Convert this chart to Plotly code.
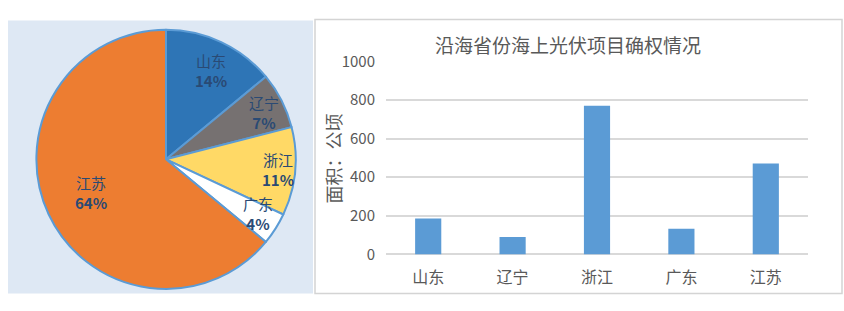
import math
import plotly.graph_objects as go

# ---- data ----
pie_labels = ["山东", "辽宁", "浙江", "广东", "江苏"]
pie_values = [14, 7, 11, 4, 64]
pie_colors = ["#2E75B6", "#767171", "#FFD966", "#FFFFFF", "#ED7D31"]

bar_categories = ["山东", "辽宁", "浙江", "广东", "江苏"]
bar_values = [186, 90, 770, 133, 471]

title_text = "沿海省份海上光伏项目确权情况"
y_title = "面积：公顷"
y_ticks = [0, 200, 400, 600, 800, 1000]

W, H = 844, 311
FONT = "Noto Sans CJK SC"
GRAY = "#595959"
LABEL_C = "#2A4A74"

def px(x):
    return x / W

def py(y):
    return 1 - y / H

fig = go.Figure()

# pie
cx, cy, R = 166, 158, 139
fig.add_trace(go.Pie(
    labels=pie_labels, values=pie_values, sort=False, direction="clockwise", rotation=0,
    marker=dict(colors=pie_colors, line=dict(color="#5B9BD5", width=2)),
    textinfo="none", textposition="none", hoverinfo="skip", showlegend=False,
    domain=dict(x=[px(cx - R), px(cx + R)], y=[py(cy + R), py(cy - R)]),
))

# pie labels computed from slice angles
total = sum(pie_values)
rfrac = [0.76, 0.79, 0.81, 0.78, 0.6]
cum = 0
annotations = []
for lab, v, rf in zip(pie_labels, pie_values, rfrac):
    mid = (cum + v / 2) / total * 2 * math.pi
    cum += v
    lx = cx + rf * R * math.sin(mid)
    ly = cy - rf * R * math.cos(mid)
    annotations.append(dict(
        x=px(lx), y=py(ly), xref="paper", yref="paper", showarrow=False,
        text=f"{lab}<br><b>{round(v / total * 100)}%</b>",
        font=dict(family=FONT, size=15, color=LABEL_C), align="center",
        xanchor="center", yanchor="middle",
    ))

# bars
fig.add_trace(go.Bar(
    x=bar_categories, y=bar_values, marker=dict(color="#5B9BD5", line=dict(width=0)),
    width=0.31, showlegend=False, hoverinfo="skip",
))

annotations.append(dict(
    x=px(568), y=py(35), xref="paper", yref="paper", showarrow=False, text=title_text,
    font=dict(family=FONT, size=19, color=GRAY), xanchor="center", yanchor="middle",
))
annotations.append(dict(
    x=px(333), y=py(157), xref="paper", yref="paper", showarrow=False, text=y_title,
    textangle=-90, font=dict(family=FONT, size=18, color=GRAY), xanchor="center", yanchor="middle",
))

fig.update_layout(
    width=W, height=H, margin=dict(l=0, r=0, t=0, b=0),
    paper_bgcolor="white", plot_bgcolor="rgba(0,0,0,0)",
    annotations=annotations,
    shapes=[
        dict(type="rect", xref="paper", yref="paper", x0=px(8), x1=px(313), y0=py(302), y1=py(9),
             fillcolor="#DEE8F4", line=dict(width=0), layer="below"),
        dict(type="rect", xref="paper", yref="paper", x0=px(315), x1=px(842), y0=py(302), y1=py(8),
             fillcolor="white", line=dict(color="#D4D4D4", width=1.5), layer="below"),
    ],
    xaxis=dict(domain=[px(386), px(808)], showgrid=False, showline=False, zeroline=False,
               ticks="", tickfont=dict(family=FONT, size=16, color=GRAY), ticklabelstandoff=12),
    yaxis=dict(domain=[py(260), py(53)], range=[0, 1000], tickvals=y_ticks,
               showgrid=True, gridcolor="#D9D9D9", gridwidth=1.5,
               zeroline=True, zerolinecolor="#D9D9D9", zerolinewidth=1.5, showline=False,
               ticks="", tickfont=dict(family=FONT, size=15, color=GRAY), ticklabelstandoff=10),
    bargap=0.69,
)

fig.write_html("out.html")
